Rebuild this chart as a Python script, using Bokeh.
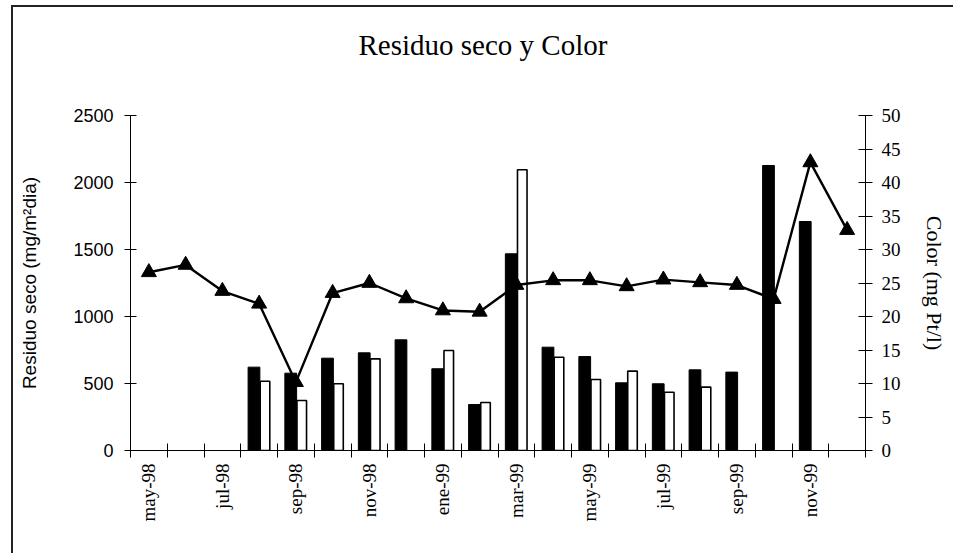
import math
import numpy as np
from bokeh.plotting import figure
from bokeh.models import Range1d, LinearAxis, FixedTicker, InlineStyleSheet
from bokeh.embed import file_html
from bokeh.resources import INLINE

# ---- data ----
months = ["may-98", "jun-98", "jul-98", "ago-98", "sep-98", "oct-98", "nov-98", "dic-98",
          "ene-99", "feb-99", "mar-99", "abr-99", "may-99", "jun-99", "jul-99", "ago-99",
          "sep-99", "oct-99", "nov-99", "dic-99"]
residuo_negro = [None, None, None, 622, 577, 689, 729, 826, 610, 343, 1468, 771, 701,
                 505, 498, 602, 585, 2127, 1709, None]
residuo_blanco = [None, None, None, 517, 373, 498, 684, None, 746, 358, 2095, 696, 530,
                  592, 435, 473, None, None, None, None]
color_pt = [26.6, 27.7, 23.8, 21.9, 10.2, 23.5, 25.0, 22.7, 20.9, 20.7, 24.7, 25.4, 25.4,
            24.5, 25.5, 25.1, 24.7, 22.6, 43.0, 32.9]
tick_labels = months[::2]
left_ticks = [0, 500, 1000, 1500, 2000, 2500]
right_ticks = [0, 5, 10, 15, 20, 25, 30, 35, 40, 45, 50]

# ---- derived ----
pos = np.arange(len(months)) + 0.5
neg_x = [p - 0.14 for p, v in zip(pos, residuo_negro) if v is not None]
neg_y = [v for v in residuo_negro if v is not None]
bla_x = [p + 0.16 for p, v in zip(pos, residuo_blanco) if v is not None]
bla_y = [v for v in residuo_blanco if v is not None]

p = figure(width=953, height=553, output_backend="svg", toolbar_location=None,
           x_range=Range1d(0, len(months)), y_range=Range1d(0, 2500),
           min_border_left=130, min_border_right=88, min_border_top=115,
           min_border_bottom=103, title="Residuo seco y Color")
# outer chart border (left and top edges visible, as in the reference)
p.stylesheets = [InlineStyleSheet(css=(
    ":host { background: "
    "linear-gradient(#222222, #222222) 11px 5px / 2px 100% no-repeat, "
    "linear-gradient(#222222, #222222) 11px 5px / 100% 2px no-repeat, #ffffff; }"))]
p.border_fill_color = None
p.background_fill_color = "white"
p.extra_y_ranges = {"color": Range1d(0, 50)}
p.xgrid.visible = False
p.ygrid.visible = False
p.outline_line_color = None

p.title.text_font = "Liberation Serif"
p.title.text_font_size = "29px"
p.title.text_font_style = "normal"
p.title.text_color = "black"
p.title.align = "left"
p.title.offset = 228
p.title.padding = (0, 0, 0, 50)
p.title.standoff = 10

p.vbar(x=neg_x, top=neg_y, bottom=0, width=0.32, fill_color="black", line_color="black")
p.vbar(x=bla_x, top=bla_y, bottom=0, width=0.26, fill_color="white", line_color="black",
       line_width=1.6)
p.line(pos, color_pt, y_range_name="color", line_color="black", line_width=2.4)
p.scatter(pos, color_pt, y_range_name="color", marker="triangle", size=15,
          fill_color="black", line_color="black")

# x axis
xa = p.xaxis[0]
xa.ticker = FixedTicker(ticks=list(pos[::2]), minor_ticks=list(range(0, len(months) + 1)))
xa.major_label_overrides = {float(t): lab for t, lab in zip(pos[::2], tick_labels)}
xa.major_tick_in = 0
xa.major_tick_out = 0
xa.minor_tick_in = 7
xa.minor_tick_out = 7
xa.minor_tick_line_color = "black"
xa.axis_line_color = "black"
xa.major_label_orientation = math.pi / 2
xa.major_label_standoff = 6
xa.major_label_text_font = "Liberation Serif"
xa.major_label_text_font_size = "19px"
xa.major_label_text_color = "black"

# left axis
ya = p.yaxis[0]
ya.ticker = FixedTicker(ticks=left_ticks)
ya.major_tick_in = 6
ya.major_tick_out = 6
ya.minor_tick_line_color = None
ya.axis_line_color = "black"
ya.major_tick_line_color = "black"
ya.major_label_standoff = 11
ya.major_label_text_font = "Liberation Sans"
ya.major_label_text_font_size = "18px"
ya.major_label_text_color = "black"
ya.axis_label = "Residuo seco (mg/m²dia)"
ya.axis_label_text_font = "Liberation Sans"
ya.axis_label_text_font_size = "19px"
ya.axis_label_text_font_style = "normal"
ya.axis_label_text_color = "black"
ya.axis_label_standoff = 30

# right axis
ra = LinearAxis(y_range_name="color", ticker=FixedTicker(ticks=right_ticks))
ra.major_tick_in = 7
ra.major_tick_out = 7
ra.minor_tick_line_color = None
ra.axis_line_color = "black"
ra.major_tick_line_color = "black"
ra.major_label_standoff = 9
ra.major_label_text_font = "Liberation Serif"
ra.major_label_text_font_size = "19px"
ra.major_label_text_color = "black"
ra.axis_label = "Color (mg Pt/l)"
ra.axis_label_text_font = "Liberation Serif"
ra.axis_label_text_font_size = "22px"
ra.axis_label_text_font_style = "normal"
ra.axis_label_text_color = "black"
ra.axis_label_standoff = 18
p.add_layout(ra, "right")

open("out.html", "w").write(file_html(p, INLINE))
